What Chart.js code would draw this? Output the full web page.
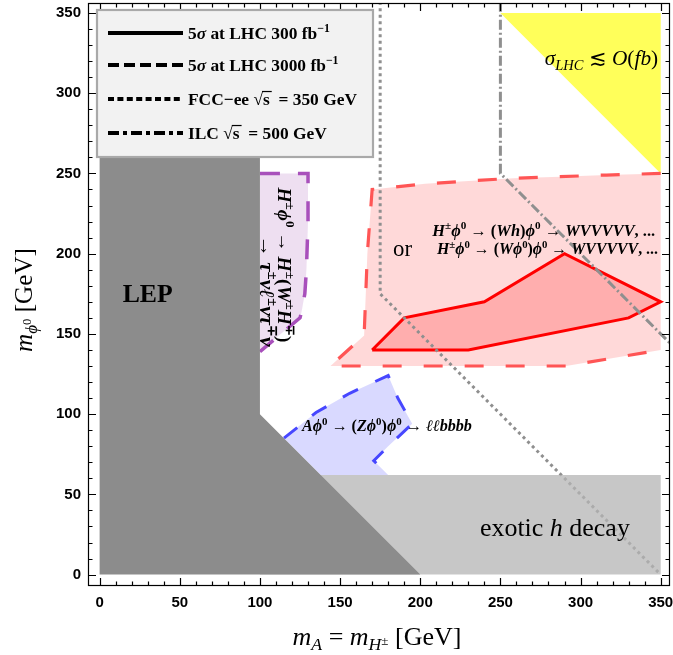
<!DOCTYPE html>
<html><head><meta charset="utf-8">
<script src="https://cdn.jsdelivr.net/npm/chart.js@4.4.0/dist/chart.umd.min.js"></script>
<style>html,body{margin:0;padding:0;background:#fff}#wrap{width:673px;height:655px}</style>
</head><body><div id="wrap"><canvas id="c" width="673" height="655"></canvas></div>
<script>
// ---- tick labels ----
const xTicks = [0, 50, 100, 150, 200, 250, 300, 350];
const yTicks = [0, 50, 100, 150, 200, 250, 300, 350];
// ---- regions (m_A = m_H±, m_phi0) ----
const lepX = [0, 0, 100, 100, 200, 0];
const lepY = [0, 350, 350, 100, 0, 0];
const exoX = [100, 350, 350, 100, 100];
const exoY = [0, 0, 62, 62, 0];
const sigX = [250, 350, 350, 250];
const sigY = [350, 350, 250, 350];
const hl3000X = [350, 316, 287, 258, 230, 203, 170, 167, 165, 144, 291, 350];
const hl3000Y = [250, 249, 248, 247, 245.3, 243.5, 240, 200, 149, 130, 130, 140];
const lhc300X = [170, 190, 240, 290, 350, 330, 230, 170];
const lhc300Y = [140, 160, 170, 200, 170, 160, 140, 140];
const purpX = [100, 130, 130, 129, 128, 126, 125, 100];
const purpY = [250, 250, 220, 190, 175, 164, 160, 139];
const blueX = [115, 125, 135, 156, 169, 180, 186, 195, 180, 171, 180];
const blueY = [85, 93, 101, 113, 119, 124, 110, 94, 80, 71, 62];
const blueCornerX = [138];
const blueCornerY = [62];
// ---- sensitivity lines ----
const fccX = [175, 175, 350];
const fccY = [357, 175, 0];
const ilcX = [250, 250, 356];
const ilcY = [357, 250, 144];

const pts = (xs, ys) => xs.map((x, i) => ({x: x, y: ys[i]}));
const base = {showLine: true, pointRadius: 0, pointHoverRadius: 0, tension: 0};
function area(label, xs, ys, o) {
  return Object.assign({}, base, {label, data: pts(xs, ys), fill: 'shape', borderWidth: 0, borderColor: 'rgba(0,0,0,0)'}, o);
}
function line(label, xs, ys, o) {
  return Object.assign({}, base, {label, data: pts(xs, ys), fill: false, backgroundColor: 'rgba(0,0,0,0)'}, o);
}

const SERIF = '"Liberation Serif", "Times New Roman", serif';
function segFont(fl, size, fam, bold) {
  return (fl.includes('i') ? 'italic ' : '') + ((bold || fl.includes('b')) ? 'bold ' : '') + size.toFixed(2) + 'px ' + fam;
}
function segMetrics(fl, size) {
  if (fl.includes('v')) return [size * 0.5, -size * 0.02];
  if (fl.includes('^')) return [size * 0.68, -size * 0.38];
  if (fl.includes('_')) return [size * 0.68, size * 0.2];
  return [size, 0];
}
function measureRich(ctx, segs, size, fam, bold) {
  let w = 0;
  for (const [t, fl] of segs) { const [s] = segMetrics(fl, size); ctx.font = segFont(fl, s, fam, bold); w += ctx.measureText(t).width; }
  return w;
}
function drawRich(ctx, segs, x, y, o) {
  let size = o.size; const fam = o.fam || SERIF;
  if (o.fit) { const w0 = measureRich(ctx, segs, size, fam, o.bold); size *= o.fit / w0; }
  const w = measureRich(ctx, segs, size, fam, o.bold);
  ctx.save(); ctx.translate(x, y); if (o.rot) ctx.rotate(o.rot);
  ctx.fillStyle = o.color || '#000'; ctx.strokeStyle = o.color || '#000';
  ctx.textBaseline = 'alphabetic'; ctx.textAlign = 'left';
  let cx = o.align === 'left' ? 0 : -w / 2; const bl = size * 0.35;
  for (const [t, fl] of segs) {
    const [s, sh] = segMetrics(fl, size); ctx.font = segFont(fl, s, fam, o.bold);
    const tw = ctx.measureText(t).width; ctx.fillText(t, cx, bl + sh);
    if (fl.includes('o')) { ctx.lineWidth = Math.max(1, size * 0.07); ctx.beginPath(); ctx.moveTo(cx - 1, bl - size * 0.78); ctx.lineTo(cx + tw + 2, bl - size * 0.78); ctx.stroke(); }
    cx += tw;
  }
  ctx.restore(); return size;
}

const decor = {
  id: 'decor',
  afterDraw(chart) {
    const ctx = chart.ctx, ca = chart.chartArea, xs = chart.scales.x, ys = chart.scales.y;
    const X = v => xs.getPixelForValue(v), Y = v => ys.getPixelForValue(v);
    // region labels
    drawRich(ctx, [['LEP', '']], X(30), Y(175.5), {size: 22, bold: true, fit: 50});
    drawRich(ctx, [['exotic ', ''], ['h', 'i'], [' decay', '']], X(284), Y(29.5), {size: 22, fit: 150});
    drawRich(ctx, [['σ', 'i'], ['LHC', 'i_'], [' ≲ ', ''], ['O', 'i'], ['(', ''], ['fb', 'i'], [')', '']], X(313), Y(322), {size: 17, fit: 113});
    drawRich(ctx, [['H', 'i'], ['±', '^'], ['ϕ', 'i'], ['0', '^'], [' → (', ''], ['Wh', 'i'], [')', ''], ['ϕ', 'i'], ['0', '^'], [' → ', ''], ['WVVVVV', 'i'], [', ...', '']], X(277), Y(214.8), {size: 13, bold: true, fit: 223});
    drawRich(ctx, [['or', '']], X(189), Y(203.5), {size: 16, fit: 19});
    drawRich(ctx, [['H', 'i'], ['±', '^'], ['ϕ', 'i'], ['0', '^'], [' → (', ''], ['W', 'i'], ['ϕ', 'i'], ['0', '^'], [')', ''], ['ϕ', 'i'], ['0', '^'], [' → ', ''], ['WVVVVV', 'i'], [', ...', '']], X(279.4), Y(203.5), {size: 13, bold: true, fit: 221});
    drawRich(ctx, [['A', 'i'], ['ϕ', 'i'], ['0', '^'], [' → (', ''], ['Z', 'i'], ['ϕ', 'i'], ['0', '^'], [')', ''], ['ϕ', 'i'], ['0', '^'], [' → ', ''], ['ℓℓbbbb', 'i']], X(179.2), Y(93.1), {size: 12, bold: true, fit: 170});
    drawRich(ctx, [['H', 'i'], ['±', '^'], ['ϕ', 'i'], ['0', '^'], [' → ', ''], ['H', 'i'], ['±', '^'], ['(', ''], ['W', 'i'], ['±', '^'], ['H', 'i'], ['∓', '^'], [')', '']], X(115.8), Y(193), {size: 13, bold: true, fit: 156, rot: Math.PI / 2});
    drawRich(ctx, [['→ ', ''], ['τ', 'i'], ['±', '^'], ['ν', 'i'], ['ℓ', 'i'], ['±', '^'], ['ν', 'i'], ['τ', 'i'], ['∓', '^'], ['ν', 'i']], X(104.4), Y(176.7), {size: 13, bold: true, fit: 112, rot: Math.PI / 2});

    // frame and inward ticks on all sides
    ctx.save();
    ctx.strokeStyle = '#000'; ctx.lineWidth = 1.2;
    ctx.strokeRect(ca.left + 0.5, ca.top + 0.5, ca.right - ca.left - 1, ca.bottom - ca.top - 1);
    ctx.beginPath();
    for (let v = 0; v <= 350; v += 10) {
      const len = v % 50 === 0 ? 8 : 4.5;
      const px = Math.round(X(v)) + 0.5, py = Math.round(Y(v)) + 0.5;
      ctx.moveTo(px, ca.bottom); ctx.lineTo(px, ca.bottom - len);
      ctx.moveTo(px, ca.top); ctx.lineTo(px, ca.top + len);
      ctx.moveTo(ca.left, py); ctx.lineTo(ca.left + len, py);
      ctx.moveTo(ca.right, py); ctx.lineTo(ca.right - len, py);
    }
    ctx.stroke();
    ctx.restore();

    // axis titles
    drawRich(ctx, [['m', 'i'], ['ϕ', 'i_'], ['0', 'v'], [' [GeV]', '']], 23, 300, {size: 20, fit: 104, rot: -Math.PI / 2});
    drawRich(ctx, [['m', 'i'], ['A', 'i_'], [' = ', ''], ['m', 'i'], ['H', 'i_'], ['±', 'v'], [' [GeV]', '']], 377, 636, {size: 20, fit: 169});

    // legend
    const lx = ca.left + 9, ly = ca.top + 7, lw = 276, lh = 147;
    ctx.save();
    ctx.fillStyle = '#f2f2f2'; ctx.fillRect(lx, ly, lw, lh);
    ctx.strokeStyle = '#a9a9a9'; ctx.lineWidth = 2.2; ctx.strokeRect(lx, ly, lw, lh);
    const rows = [
      {dash: [], segs: [['5', ''], ['σ', 'i'], [' at LHC 300 fb', ''], ['−1', '^']]},
      {dash: [11, 5], segs: [['5', ''], ['σ', 'i'], [' at LHC 3000 fb', ''], ['−1', '^']]},
      {dash: [6, 3.4], segs: [['FCC−ee ', ''], ['√', ''], ['s', 'o'], ['  = 350 GeV', '']]},
      {dash: [11, 4, 4, 4], segs: [['ILC ', ''], ['√', ''], ['s', 'o'], ['  = 500 GeV', '']]}
    ];
    const rowY = [ly + 23, ly + 55, ly + 89, ly + 123];
    const fs = (() => { const w = measureRich(ctx, rows[2].segs, 14, SERIF, true); return 14 * 169 / w; })();
    rows.forEach((r, i) => {
      ctx.save();
      ctx.strokeStyle = '#000'; ctx.lineWidth = 4; ctx.setLineDash(r.dash);
      ctx.beginPath(); ctx.moveTo(lx + 11, rowY[i]); ctx.lineTo(lx + 86, rowY[i]); ctx.stroke();
      ctx.restore();
      drawRich(ctx, r.segs, lx + 91, rowY[i], {size: fs, bold: true, align: 'left'});
    });
    ctx.restore();
  }
};

new Chart(document.getElementById('c'), {
  type: 'scatter',
  data: {
    datasets: [
      area('LEP', lepX, lepY, {order: 1, backgroundColor: '#8c8c8c'}),
      area('exotic h decay', exoX, exoY, {order: 2, backgroundColor: 'rgba(180,180,180,0.75)'}),
      line('ILC 500 GeV', ilcX, ilcY, {order: 3, borderColor: '#8f8f8f', borderWidth: 3, borderDash: [10, 3, 2, 3]}),
      line('FCC-ee 350 GeV', fccX, fccY, {order: 4, borderColor: '#8f8f8f', borderWidth: 3, borderDash: [3, 3.5]}),
      line('A phi0 edge', blueX, blueY, {order: 5, borderColor: '#4747ff', borderWidth: 3, borderDash: [17, 19]}),
      area('A phi0', blueX.concat(blueCornerX), blueY.concat(blueCornerY), {order: 6, backgroundColor: 'rgba(0,0,255,0.15)'}),
      area('H± phi0 tau', purpX, purpY, {order: 7, backgroundColor: 'rgba(140,40,160,0.15)', borderColor: '#a850bb', borderWidth: 3.5, borderDash: [20, 18]}),
      area('LHC 300', lhc300X, lhc300Y, {order: 8, backgroundColor: 'rgba(255,0,0,0.2)', borderColor: '#ff0000', borderWidth: 3}),
      area('LHC 3000', hl3000X, hl3000Y, {order: 9, backgroundColor: 'rgba(255,0,0,0.15)', borderColor: '#ff5555', borderWidth: 3.2, borderDash: [19, 22]}),
      area('sigma small', sigX, sigY, {order: 10, backgroundColor: 'rgb(255,255,90)'})
    ]
  },
  options: {
    responsive: false, animation: false, devicePixelRatio: 1, events: [],
    layout: {padding: {top: 3, right: 3, left: 0, bottom: 0}},
    plugins: {legend: {display: false}, tooltip: {enabled: false}},
    scales: {
      x: {
        type: 'linear', min: -7.25, max: 355.8,
        grid: {display: false, drawTicks: false}, border: {display: false},
        ticks: {padding: 8, color: '#000', font: {family: '"Liberation Sans", Arial, sans-serif', weight: 'bold', size: 15}, maxRotation: 0},
        afterBuildTicks: s => { s.ticks = xTicks.map(v => ({value: v})); },
        afterFit: s => { s.height = 69; s.paddingLeft = 0; s.paddingRight = 0; s.paddingTop = 0; s.paddingBottom = 0; }
      },
      y: {
        type: 'linear', min: -7.1, max: 356.2,
        grid: {display: false, drawTicks: false}, border: {display: false},
        ticks: {padding: 7, color: '#000', font: {family: '"Liberation Sans", Arial, sans-serif', weight: 'bold', size: 15}},
        afterBuildTicks: s => { s.ticks = yTicks.map(v => ({value: v})); },
        afterFit: s => { s.width = 88; s.paddingLeft = 0; s.paddingRight = 0; s.paddingTop = 0; s.paddingBottom = 0; }
      }
    }
  },
  plugins: [decor]
});
</script>
</body></html>
